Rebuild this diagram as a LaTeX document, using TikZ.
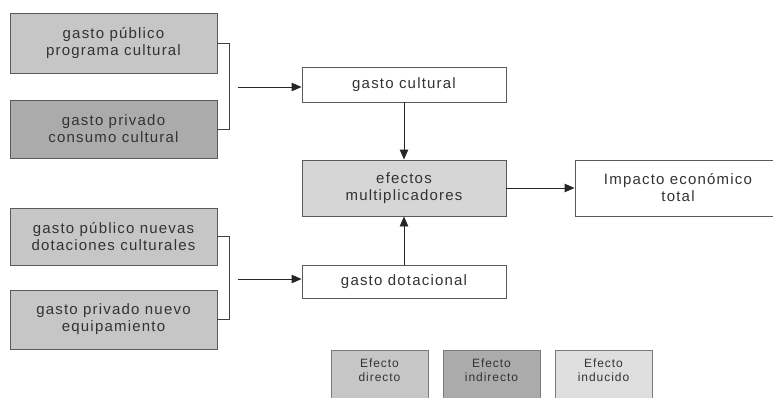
\documentclass[tikz,border=0pt]{standalone}
\usepackage{fontspec}
\setmainfont{Liberation Sans}[LetterSpace=8]
\newfontfamily\legfont{Liberation Sans}[LetterSpace=8]
\usetikzlibrary{arrows.meta}
\definecolor{gLight}{HTML}{C6C6C6}
\definecolor{gDark}{HTML}{ABABAB}
\definecolor{gPale}{HTML}{D6D6D6}
\definecolor{gLeg}{HTML}{DEDEDE}
\definecolor{edge}{HTML}{5A5A5A}
\tikzset{
  box/.style={rectangle, draw=edge, line width=0.9pt, align=center, inner sep=0pt,
    font=\fontsize{15}{17}\selectfont, text=black!80},
  legbox/.style={rectangle, draw=edge!80, line width=0.9pt, inner sep=0pt,
    minimum width=97pt, minimum height=52pt},
  legtext/.style={align=center, inner sep=0pt, font=\legfont\fontsize{12}{14}\selectfont, text=black!80},
  arr/.style={draw=black!85, line width=0.9pt, -{Triangle[length=10pt,width=8.5pt]}},
  brk/.style={draw=black!75, line width=0.9pt}
}
\begin{document}
\begin{tikzpicture}[x=1pt,y=-1pt]
\useasboundingbox (0,0) rectangle (773,397);
\clip (0,0) rectangle (773,397);
% left boxes
\node[box, fill=gLight, minimum width=207pt, minimum height=60pt] (b1) at (113.5,43) {gasto público\\programa cultural};
\node[box, fill=gDark, minimum width=207pt, minimum height=58pt] (b2) at (113.5,129) {gasto privado\\consumo cultural};
\node[box, fill=gLight, minimum width=207pt, minimum height=57pt] (b3) at (113.5,236.5) {gasto público nuevas\\dotaciones culturales};
\node[box, fill=gLight, minimum width=207pt, minimum height=59pt] (b4) at (113.5,319.5) {gasto privado nuevo\\equipamiento};
% middle boxes
\node[box, fill=white, minimum width=204pt, minimum height=35pt] (gc) at (404,84.5) {gasto cultural};
\node[box, fill=gPale, minimum width=204pt, minimum height=56pt] (ef) at (404,188) {efectos\\multiplicadores};
\node[box, fill=white, minimum width=204pt, minimum height=33pt] (gd) at (404,281.5) {gasto dotacional};
\node[box, fill=white, minimum width=206pt, minimum height=56pt] (imp) at (678,188) {Impacto económico\\total};
% legend
\node[legbox, fill=gLight] (l1) at (379.5,376) {};
\node[legbox, fill=gDark] (l2) at (491.5,376) {};
\node[legbox, fill=gLeg] (l3) at (603.5,376) {};
\node[legtext] (l1t) at (379.5,370) {Efecto\\directo};
\node[legtext] (l2t) at (491.5,370) {Efecto\\indirecto};
\node[legtext] (l3t) at (603.5,370) {Efecto\\inducido};
% brackets
\draw[brk] (b1.east) -- ++(12,0) |- (b2.east);
\draw[brk] (b3.east) -- ++(12,0) |- (b4.east);
% arrows
\coordinate (s1) at (238,87);
\coordinate (s2) at (238,279);
\draw[arr] (s1) -- (s1 -| gc.west);
\draw[arr] (s2) -- (s2 -| gd.west);
\draw[arr] (gc.south) -- (ef.north);
\draw[arr] (gd.north) -- (ef.south);
\draw[arr] (ef.east) -- (imp.west);
\end{tikzpicture}
\end{document}
